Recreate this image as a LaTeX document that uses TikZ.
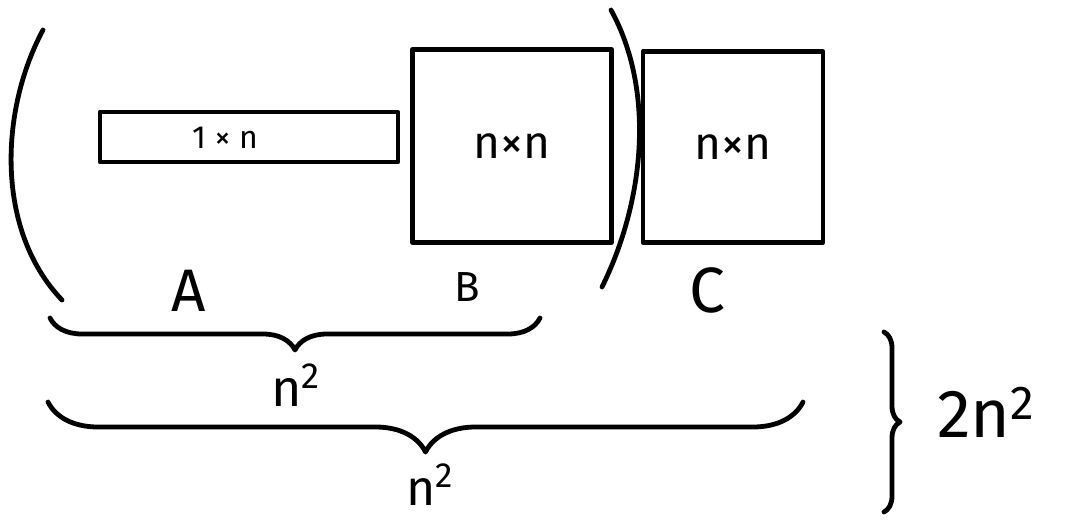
\documentclass[tikz,border=0pt]{standalone}
\usepackage{fontspec}
\setsansfont{Fira Sans}
\usetikzlibrary{decorations.pathreplacing}

\begin{document}
\begin{tikzpicture}[x=0.5pt,y=-0.5pt,line width=2.4pt,line cap=round,line join=round,
  font=\sffamily,
  matbox/.style={draw,inner sep=0pt},
  bigbrace/.style={decorate,decoration={brace,amplitude=#1}}]
\useasboundingbox (0,0) rectangle (1081,524);
% the three matrices
\node[matbox,minimum width=149pt,minimum height=25pt] (rowA) at (249,137) {};
\node[font=\sffamily\fontsize{16}{18}\selectfont] (rowAtext) at (225,138) {1 × n};
\node[matbox,minimum width=99.5pt,minimum height=96.5pt,font=\sffamily\fontsize{23}{26}\selectfont] (matB) at (512,146) {n×n};
\node[matbox,minimum width=90pt,minimum height=95.5pt,font=\sffamily\fontsize{23}{26}\selectfont] (matC) at (733,147) {n×n};
% parentheses round A and B
\draw (43,30) .. controls (0,110) and (-5,230) .. (62,300);
\draw (611,10) .. controls (655,90) and (645,200) .. (602,287);
% names
\node[font=\sffamily\fontsize{30}{34}\selectfont] (nameA) at (189,291) {A};
\node[font=\sffamily\fontsize{21}{24}\selectfont] (nameB) at (467,287) {B};
\node[font=\sffamily\fontsize{32}{36}\selectfont] (nameC) at (707,290) {C};
% braces and sizes
\coordinate (b1l) at (50,318);
\coordinate (b1r) at (540,318);
\draw[bigbrace=16pt,decoration={mirror}] (b1l) -- (b1r);
\node[font=\sffamily\fontsize{26}{30}\selectfont] (size1) at (296,385) {n\textsuperscript{2}};
\coordinate (b2l) at (48,402);
\coordinate (b2r) at (803,402);
\draw[bigbrace=25pt,decoration={mirror}] (b2l) -- (b2r);
\node[inner sep=1pt,font=\sffamily\fontsize{25}{28}\selectfont] (size2) at (430,485) {n\textsuperscript{2}};
\coordinate (b3t) at (884,332);
\coordinate (b3b) at (884,512);
\draw[bigbrace=8pt] (b3t) -- (b3b);
\node[anchor=west,font=\sffamily\fontsize{34}{38}\selectfont] (total) at (928,412) {2n\textsuperscript{2}};
\end{tikzpicture}
\end{document}
